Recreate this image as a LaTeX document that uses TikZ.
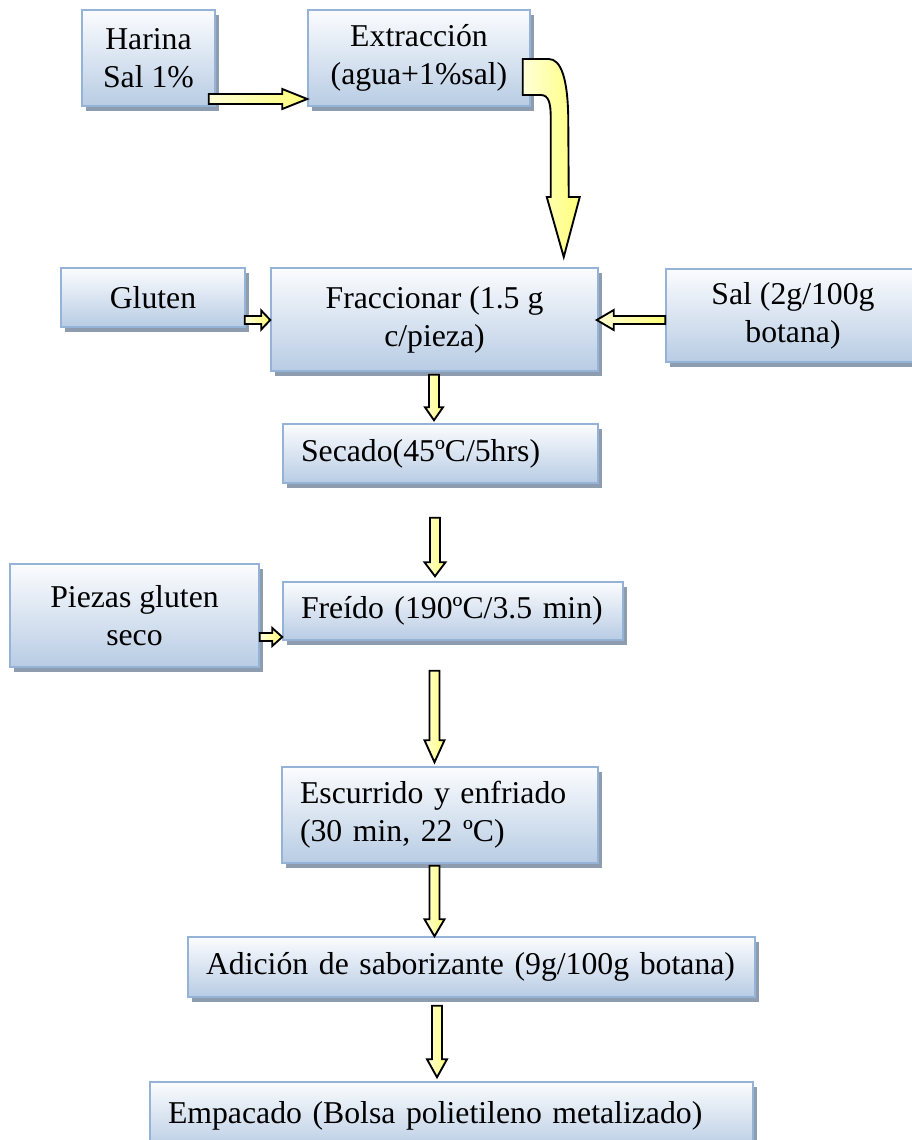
\documentclass[tikz,border=0pt]{standalone}
\usepackage{fontspec}
\setmainfont{Liberation Serif}
\usetikzlibrary{calc,shadows}

% one drawing unit = one pixel of the 912 x 1140 page
\def\pxu{0.4pt}

\definecolor{boxedge}{HTML}{95B3D7}
\definecolor{boxtop}{HTML}{FBFCFE}
\definecolor{boxbot}{HTML}{B8CCE4}
\definecolor{boxshade}{HTML}{8E9CB0}
\definecolor{arrlight}{HTML}{FFFFD8}
\definecolor{arrdark}{HTML}{FFFF78}

\tikzset{
  flowbox/.style={draw=boxedge, line width=0.6pt, top color=boxtop, bottom color=boxbot,
    drop shadow={shadow xshift=1.6pt, shadow yshift=-1.8pt, fill=boxshade, opacity=1},
    font=\fontsize{12.7}{15.2}\selectfont, inner sep=0pt, align=center},
  leftbox/.style={flowbox, align=left, inner xsep=18*\pxu},
  flowarrow/.style={draw=black, line width=0.75pt, line join=miter,
    left color=arrlight, right color=arrdark},
}

% block arrows: #1 start, #2 end, #3 head length, #4 shaft half width, #5 head half width (px)
\newcommand\arrdown[5]{%
  \draw[flowarrow] let \p1=#1, \p2=#2 in
    (\x1-#4*\pxu,\y1) -- (\x1-#4*\pxu,\y2+#3*\pxu) -- (\x1-#5*\pxu,\y2+#3*\pxu) -- (\x1,\y2)
    -- (\x1+#5*\pxu,\y2+#3*\pxu) -- (\x1+#4*\pxu,\y2+#3*\pxu) -- (\x1+#4*\pxu,\y1) -- cycle;}
\newcommand\arrright[5]{%
  \draw[flowarrow] let \p1=#1, \p2=#2 in
    (\x1,\y1+#4*\pxu) -- (\x2-#3*\pxu,\y1+#4*\pxu) -- (\x2-#3*\pxu,\y1+#5*\pxu) -- (\x2,\y1)
    -- (\x2-#3*\pxu,\y1-#5*\pxu) -- (\x2-#3*\pxu,\y1-#4*\pxu) -- (\x1,\y1-#4*\pxu) -- cycle;}
\newcommand\arrleft[5]{%
  \draw[flowarrow] let \p1=#1, \p2=#2 in
    (\x1,\y1+#4*\pxu) -- (\x2+#3*\pxu,\y1+#4*\pxu) -- (\x2+#3*\pxu,\y1+#5*\pxu) -- (\x2,\y1)
    -- (\x2+#3*\pxu,\y1-#5*\pxu) -- (\x2+#3*\pxu,\y1-#4*\pxu) -- (\x1,\y1-#4*\pxu) -- cycle;}

\begin{document}
\begin{tikzpicture}[x=0.4pt, y=-0.4pt]
\path[use as bounding box, clip] (0,0) rectangle (912,1140);

% process boxes
\node[flowbox, minimum width=133*\pxu, minimum height=96*\pxu] (har) at (148.5,58) {Harina\\Sal 1\%};
\node[flowbox, minimum width=222*\pxu, minimum height=96*\pxu] (ext) at (419,58) {Extracción\\(agua+1\%sal)};
\node[flowbox, minimum width=184*\pxu, minimum height=59*\pxu] (glu) at (153,297.5) {Gluten};
\node[flowbox, minimum width=327*\pxu, minimum height=103*\pxu] (fra) at (434.5,319.5) {Fraccionar (1.5 g\\c/pieza)};
\node[flowbox, minimum width=254*\pxu, minimum height=93*\pxu] (sal) at (793,315.5) {Sal (2g/100g\\botana)};
\node[leftbox, text width=279*\pxu, minimum height=59*\pxu] (sec) at (440.5,453.5) {Secado(45ºC/5hrs)};
\node[flowbox, minimum width=249*\pxu, minimum height=103*\pxu] (pie) at (134.5,615.5) {Piezas gluten\\seco};
\node[leftbox, text width=304*\pxu, minimum height=58*\pxu] (fre) at (453,611) {Freído (190ºC/3.5 min)};
\node[leftbox, text width=280*\pxu, minimum height=96*\pxu] (esc) at (440,815) {Escurrido y enfriado\\(30 min, 22 ºC)};
\node[leftbox, text width=531*\pxu, minimum height=60*\pxu] (adi) at (471.5,967) {Adición de saborizante (9g/100g botana)};
\node[leftbox, text width=567*\pxu, minimum height=68*\pxu] (emp) at (451.5,1116) {Empacado (Bolsa polietileno metalizado)};

% column of the vertical arrows
\coordinate (c1) at (434,0);
\coordinate (c2) at (436,0);

% horizontal feeds
\arrright{($(har.east)+(-7,41)$)}{(ext.west)}{25}{5}{10}
\arrright{($(glu.east)+(-1,22.5)$)}{(fra.west)}{9}{4}{9.5}
\arrleft{($(sal.west)+(0,4.5)$)}{($(fra.east)+(-2,0)$)}{17}{4}{10}
\arrright{($(pie.east)+(0,21.5)$)}{(fre.west)}{10}{4}{9}

% bent arrow from the extraction down to the portioning step
\begin{scope}[shift={(ext.east)}]
\draw[flowarrow] (-8,1) -- (18,1) .. controls (30,1) and (37,20) .. (37.5,60) -- (38,139)
  -- (49,139) -- (33,199) -- (16,139) -- (20,139) -- (20,60)
  .. controls (20,45) and (18,37) .. (10,37) -- (-8,37) -- cycle;
\end{scope}

% main vertical flow
\arrdown{($(c1|-fra.south)+(0,3)$)}{($(c1|-sec.north)+(0,-3)$)}{13}{5}{9}
\arrdown{($(c1|-sec.south)+(1,34)$)}{($(c1|-fre.north)+(1,-5)$)}{14}{5}{10.5}
\arrdown{($(c1|-fre.south)+(0.5,30)$)}{($(c1|-esc.north)+(0.5,-4)$)}{22}{5}{10}
\arrdown{($(c1|-esc.south)+(0.5,2)$)}{($(c1|-adi.north)+(0.5,0)$)}{17}{5}{10}
\arrdown{($(c2|-adi.south)+(1,8)$)}{($(c2|-emp.north)+(1,-4)$)}{18}{5}{10}
\end{tikzpicture}
\end{document}
